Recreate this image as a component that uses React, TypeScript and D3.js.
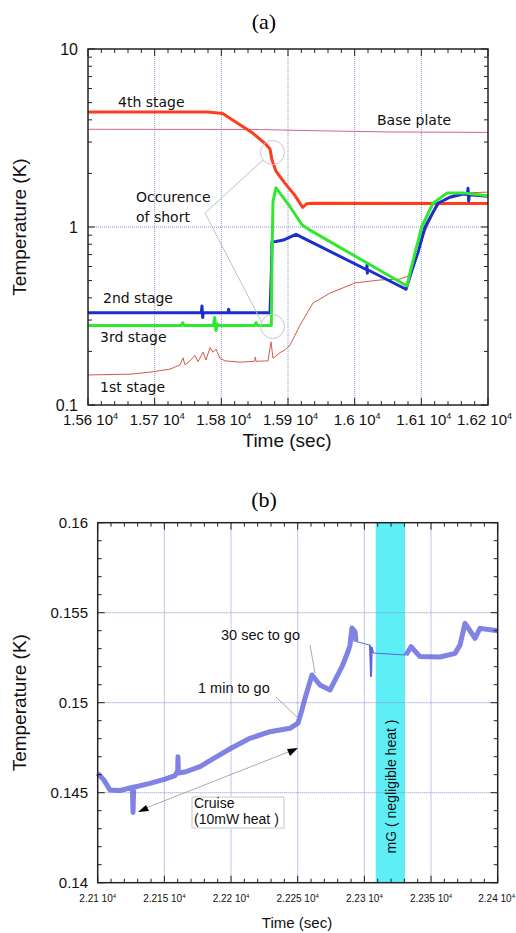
import React from "react";
import * as d3 from "d3";

// ---------- Panel (a) data ----------
const aXTicks = [15600, 15700, 15800, 15900, 16000, 16100, 16200];
const aXTickLabels = ["1.56", "1.57", "1.58", "1.59", "1.6", "1.61", "1.62"];
const aYTicks = [0.1, 1, 10];
const aYTickLabels = ["0.1", "1", "10"];

const fourthT = [15600, 15780, 15802, 15817, 15847, 15865, 15873, 15876, 15882, 15895, 15910, 15922, 15928, 15936, 16200];
const fourthV = [4.43, 4.43, 4.34, 3.99, 3.37, 2.96, 2.74, 2.38, 2.06, 1.77, 1.51, 1.29, 1.35, 1.36, 1.355];

const baseT = [15600, 15850, 15950, 16050, 16200];
const baseV = [3.54, 3.53, 3.47, 3.42, 3.4];

const secondT = [15600, 15770, 15771, 15772, 15773, 15810, 15811, 15812, 15873, 15875, 15876, 15882, 15893, 15912, 16018, 16018.5, 16019, 16019.5, 16077, 16086, 16095, 16105.5, 16125, 16143, 16162.5, 16169, 16170, 16171, 16172, 16200];
const secondV = [0.33, 0.33, 0.36, 0.31, 0.33, 0.33, 0.345, 0.33, 0.33, 0.55, 0.827, 0.83, 0.845, 0.91, 0.575, 0.61, 0.55, 0.575, 0.447, 0.573, 0.72, 1.0, 1.36, 1.47, 1.53, 1.52, 1.65, 1.4, 1.52, 1.49];

const thirdT = [15600, 15740, 15742, 15744, 15788, 15790, 15792, 15794, 15796, 15850, 15852, 15854, 15875, 15876, 15877.5, 15882, 15903, 15921, 15933, 16078.5, 16084, 16100.5, 16117.5, 16138.5, 16165, 16200];
const thirdV = [0.28, 0.28, 0.29, 0.28, 0.28, 0.31, 0.262, 0.285, 0.28, 0.28, 0.29, 0.28, 0.28, 0.7, 1.39, 1.66, 1.3, 1.03, 0.96, 0.466, 0.573, 1.0, 1.36, 1.55, 1.55, 1.5];

const firstT = [15600, 15663, 15693, 15723, 15738, 15742.5, 15745.5, 15753, 15760.5, 15765, 15772.5, 15777, 15783, 15787.5, 15792, 15798, 15805.5, 15828, 15850, 15851, 15852, 15870, 15874.5, 15877.5, 15888, 15895.5, 15903, 15918, 15937.5, 15963, 16000.5, 16038, 16068, 16080, 16090.5, 16105.5, 16120.5, 16135.5, 16155, 16200];
const firstV = [0.1475, 0.149, 0.153, 0.159, 0.168, 0.184, 0.168, 0.177, 0.19, 0.175, 0.198, 0.179, 0.21, 0.198, 0.206, 0.183, 0.177, 0.174, 0.176, 0.186, 0.176, 0.177, 0.226, 0.183, 0.197, 0.204, 0.217, 0.281, 0.374, 0.425, 0.485, 0.504, 0.51, 0.53, 0.636, 0.94, 1.25, 1.45, 1.55, 1.57];

// ---------- Panel (b) data ----------
const bXTicks = [22100, 22150, 22200, 22250, 22300, 22350, 22400];
const bXTickLabels = ["2.21", "2.215", "2.22", "2.225", "2.23", "2.235", "2.24"];
const bYTicks = [0.14, 0.145, 0.15, 0.155, 0.16];
const bYTickLabels = ["0.14", "0.145", "0.15", "0.155", "0.16"];
const bandRange = [22308.5, 22330.5];

const cruiseT = [22100, 22104.7, 22109.2, 22116.7, 22126, 22126.5, 22127, 22139.2, 22150.5, 22158, 22160, 22160.2, 22160.5, 22165.5, 22176.7, 22188, 22200, 22214.2, 22229.2, 22244.2, 22250.2, 22253.2, 22255.5, 22260.7, 22266.7, 22274.2, 22278, 22283.2, 22287.7, 22289.2, 22290.7, 22293, 22293.7];
const cruiseV = [0.14608, 0.1457, 0.14515, 0.14512, 0.1453, 0.1439, 0.1453, 0.14552, 0.14575, 0.14595, 0.1462, 0.147, 0.1461, 0.14615, 0.14645, 0.14695, 0.14747, 0.14802, 0.14839, 0.14858, 0.14886, 0.1496, 0.15025, 0.15154, 0.15098, 0.1507, 0.15126, 0.152, 0.15283, 0.1532, 0.15415, 0.15394, 0.1534];
const gapT = [22293.7, 22304.2];
const gapV = [0.1534, 0.1532];
const preBandT = [22304.2, 22305, 22305.5, 22306.5];
const preBandV = [0.1532, 0.15144, 0.1531, 0.15276];
const bandLineT = [22306.5, 22331.2];
const bandLineV = [0.15276, 0.15265];
const postT = [22331.2, 22335, 22341.7, 22356.7, 22368, 22371.7, 22375.5, 22383, 22386.7, 22400];
const postV = [0.15265, 0.15311, 0.15256, 0.15254, 0.15274, 0.1532, 0.15441, 0.15358, 0.15413, 0.154];

const SANS = "'Liberation Sans', Arial, Helvetica, sans-serif";
const LUCIDA = "'DejaVu Sans', sans-serif";
const GRID = "#8d8dd0";

function zip(t: number[], v: number[]) {
  return t.map((x, i) => [x, v[i]] as [number, number]);
}

function TickLabel({ x, y, m, size, anchor = "middle" }: { x: number; y: number; m: string; size: number; anchor?: string }) {
  return (
    <text x={x} y={y} textAnchor={anchor} fontFamily={SANS} fontSize={size} fill="#111">
      {m} 10
      <tspan fontSize={size * 0.6} dy={-size * 0.42}>4</tspan>
    </text>
  );
}

function PanelA() {
  const L = 88, R = 488, T = 49, B = 405;
  const x = d3.scaleLinear().domain([15600, 16200]).range([L, R]);
  const y = d3.scaleLog().domain([0.1, 10]).range([B, T]);
  const line = d3.line<[number, number]>().x((d) => x(d[0])).y((d) => y(d[1]));
  const minorX = d3.range(15600, 16201, 20).filter((t) => (t - 15600) % 100 !== 0);
  const minorY: number[] = [];
  [0.1, 1].forEach((d) => { for (let k = 2; k <= 9; k++) minorY.push(d * k); });
  return (
    <g>
      <text x={264} y={29} textAnchor="middle" fontFamily="'Liberation Serif', 'Times New Roman', serif" fontSize={22}>(a)</text>
      {aXTicks.slice(1, -1).map((t) => (
        <line key={t} x1={x(t)} x2={x(t)} y1={T} y2={B} stroke={GRID} strokeWidth={1} strokeDasharray="1,1" />
      ))}
      <line x1={L} x2={R} y1={y(1)} y2={y(1)} stroke={GRID} strokeWidth={1} strokeDasharray="1,1" />
      {/* series */}
      <path d={line(zip(baseT, baseV))!} fill="none" stroke="#d2649c" strokeWidth={1} />
      <path d={line(zip(firstT, firstV))!} fill="none" stroke="#d55a48" strokeWidth={1} />
      <path d={line(zip(fourthT, fourthV))!} fill="none" stroke="#ff3c1c" strokeWidth={3} strokeLinejoin="round" />
      <path d={line(zip(secondT, secondV))!} fill="none" stroke="#1c2fcc" strokeWidth={3} strokeLinejoin="round" />
      <path d={line(zip(thirdT, thirdV))!} fill="none" stroke="#30e830" strokeWidth={3} strokeLinejoin="round" />
      {/* frame */}
      <rect x={L} y={T} width={R - L} height={B - T} fill="none" stroke="#222" strokeWidth={1.5} />
      {aXTicks.map((t) => (
        <g key={t}>
          <line x1={x(t)} x2={x(t)} y1={B} y2={B - 7} stroke="#222" />
          <line x1={x(t)} x2={x(t)} y1={T} y2={T + 7} stroke="#222" />
        </g>
      ))}
      {minorX.map((t) => (
        <g key={t}>
          <line x1={x(t)} x2={x(t)} y1={B} y2={B - 4} stroke="#222" />
          <line x1={x(t)} x2={x(t)} y1={T} y2={T + 4} stroke="#222" />
        </g>
      ))}
      {aYTicks.map((v) => (
        <g key={v}>
          <line x1={L} x2={L + 7} y1={y(v)} y2={y(v)} stroke="#222" />
          <line x1={R} x2={R - 7} y1={y(v)} y2={y(v)} stroke="#222" />
        </g>
      ))}
      {minorY.map((v) => (
        <g key={v}>
          <line x1={L} x2={L + 4} y1={y(v)} y2={y(v)} stroke="#222" />
          <line x1={R} x2={R - 4} y1={y(v)} y2={y(v)} stroke="#222" />
        </g>
      ))}
      {aYTicks.map((v, i) => (
        <text key={v} x={78} y={y(v) + 5.5} textAnchor="end" fontFamily={SANS} fontSize={16} fill="#111">{aYTickLabels[i]}</text>
      ))}
      {aXTicks.map((t, i) =>
        i === aXTicks.length - 1 ? (
          <TickLabel key={t} x={512} y={425} m={aXTickLabels[i]} size={15} anchor="end" />
        ) : (
          <TickLabel key={t} x={x(t) + 2.5} y={425} m={aXTickLabels[i]} size={15} />
        )
      )}
      <text x={287} y={447} textAnchor="middle" fontFamily={SANS} fontSize={19} fill="#111">Time (sec)</text>
      <text transform={`translate(26,${(T + B) / 2}) rotate(-90)`} textAnchor="middle" fontFamily={SANS} fontSize={19} fill="#111">Temperature (K)</text>
      {/* labels */}
      <text x={118} y={107} fontFamily={LUCIDA} fontSize={14} fill="#111">4th stage</text>
      <text x={377} y={125} fontFamily={LUCIDA} fontSize={14} fill="#111">Base plate</text>
      <text x={136} y={202} fontFamily={LUCIDA} fontSize={14} fill="#111">Occurence</text>
      <text x={136} y={222} fontFamily={LUCIDA} fontSize={14} fill="#111">of short</text>
      <text x={103} y={303} fontFamily={LUCIDA} fontSize={14} fill="#111">2nd stage</text>
      <text x={100} y={342} fontFamily={LUCIDA} fontSize={14} fill="#111">3rd stage</text>
      <text x={100} y={392} fontFamily={LUCIDA} fontSize={14} fill="#111">1st stage</text>
      <circle cx={272.5} cy={152.5} r={12} fill="none" stroke="#c8c8c8" strokeWidth={1} />
      <circle cx={272.5} cy={326.5} r={12} fill="none" stroke="#c8c8c8" strokeWidth={1} />
      <line x1={205} y1={213} x2={263} y2={160} stroke="#c0c0c0" strokeWidth={1} />
      <line x1={205} y1={213} x2={262} y2={323} stroke="#c0c0c0" strokeWidth={1} />
    </g>
  );
}

function PanelB() {
  const L = 97.7, R = 497.7, T = 522.7, B = 882.7;
  const x = d3.scaleLinear().domain([22100, 22400]).range([L, R]);
  const y = d3.scaleLinear().domain([0.14, 0.16]).range([B, T]);
  const line = d3.line<[number, number]>().x((d) => x(d[0])).y((d) => y(d[1]));
  const minorX = d3.range(22100, 22401, 10).filter((t) => (t - 22100) % 50 !== 0);
  const minorY = d3.range(0, 21).map((k) => 0.14 + k * 0.001).filter((_, k) => k % 5 !== 0);
  const blue = "#6063de";
  return (
    <g>
      <text x={264} y={507} textAnchor="middle" fontFamily="'Liberation Serif', 'Times New Roman', serif" fontSize={22}>(b)</text>
      <rect x={x(bandRange[0])} y={T} width={x(bandRange[1]) - x(bandRange[0])} height={B - T} fill="#5eeef6" />
      {bXTicks.slice(1, -1).map((t) => (
        <line key={t} x1={x(t)} x2={x(t)} y1={T} y2={B} stroke={GRID} strokeWidth={1} strokeDasharray="1,1" />
      ))}
      {bYTicks.slice(1, -1).map((v) => (
        <line key={v} x1={L} x2={R} y1={y(v)} y2={y(v)} stroke={GRID} strokeWidth={1} strokeDasharray="1,1" />
      ))}
      <path d={line(zip(cruiseT, cruiseV))!} fill="none" stroke={blue} strokeWidth={5} strokeOpacity={0.8} strokeLinejoin="round" />
      <path d={line(zip(gapT, gapV))!} fill="none" stroke={blue} strokeWidth={1} />
      <path d={line(zip(preBandT, preBandV))!} fill="none" stroke={blue} strokeWidth={2} />
      <path d={line(zip(bandLineT, bandLineV))!} fill="none" stroke={blue} strokeWidth={1} />
      <path d={line(zip(postT, postV))!} fill="none" stroke={blue} strokeWidth={5} strokeOpacity={0.8} strokeLinejoin="round" />
      <rect x={L} y={T} width={R - L} height={B - T} fill="none" stroke="#222" strokeWidth={1.5} />
      {bXTicks.map((t) => (
        <g key={t}>
          <line x1={x(t)} x2={x(t)} y1={B} y2={B - 7} stroke="#222" />
          <line x1={x(t)} x2={x(t)} y1={T} y2={T + 7} stroke="#222" />
        </g>
      ))}
      {minorX.map((t) => (
        <g key={t}>
          <line x1={x(t)} x2={x(t)} y1={B} y2={B - 4} stroke="#222" />
          <line x1={x(t)} x2={x(t)} y1={T} y2={T + 4} stroke="#222" />
        </g>
      ))}
      {bYTicks.map((v) => (
        <g key={v}>
          <line x1={L} x2={L + 7} y1={y(v)} y2={y(v)} stroke="#222" />
          <line x1={R} x2={R - 7} y1={y(v)} y2={y(v)} stroke="#222" />
        </g>
      ))}
      {minorY.map((v) => (
        <g key={v}>
          <line x1={L} x2={L + 4} y1={y(v)} y2={y(v)} stroke="#222" />
          <line x1={R} x2={R - 4} y1={y(v)} y2={y(v)} stroke="#222" />
        </g>
      ))}
      {bYTicks.map((v, i) => (
        <text key={v} x={88} y={y(v) + 5} textAnchor="end" fontFamily={SANS} fontSize={15} fill="#111">{bYTickLabels[i]}</text>
      ))}
      {bXTicks.map((t, i) =>
        i === bXTicks.length - 1 ? (
          <TickLabel key={t} x={515} y={902} m={bXTickLabels[i]} size={10} anchor="end" />
        ) : (
          <TickLabel key={t} x={x(t)} y={902} m={bXTickLabels[i]} size={10} />
        )
      )}
      <text x={297} y={928} textAnchor="middle" fontFamily={SANS} fontSize={15} fill="#111">Time (sec)</text>
      <text transform={`translate(26,${(T + B) / 2}) rotate(-90)`} textAnchor="middle" fontFamily={SANS} fontSize={19} fill="#111">Temperature (K)</text>
      <text transform={`translate(396,${786.5}) rotate(-90)`} textAnchor="middle" fontFamily={SANS} fontSize={14} fill="#111">mG ( negligible heat )</text>
      {/* annotations */}
      <text x={221} y={640} fontFamily={SANS} fontSize={14.5} fill="#111">30 sec to go</text>
      <line x1={310} y1={645} x2={315} y2={673} stroke="#aaa" />
      <text x={198} y={693} fontFamily={SANS} fontSize={14.5} fill="#111">1 min to go</text>
      <line x1={276} y1={697} x2={298} y2={718} stroke="#aaa" />
      <rect x={192} y={797} width={92} height={31} fill="#fff" stroke="#c8c8c8" />
      <text x={194} y={808} fontFamily={SANS} fontSize={14} fill="#111">Cruise</text>
      <text x={194} y={824} fontFamily={SANS} fontSize={14} fill="#111">(10mW heat )</text>
      <line x1={146} y1={808} x2={292} y2={750.5} stroke="#aaa" />
      <path d="M298,748 L287,749 L290,756 Z" fill="#000" />
      <path d="M138,812 L149,811 L146,805 Z" fill="#000" />
    </g>
  );
}

export default function App() {
  return (
    <svg width={516} height={933} style={{ position: "absolute", left: 0, top: 0, background: "#fff" }}>
      <rect width={516} height={933} fill="#fff" />
      <PanelA />
      <PanelB />
    </svg>
  );
}
